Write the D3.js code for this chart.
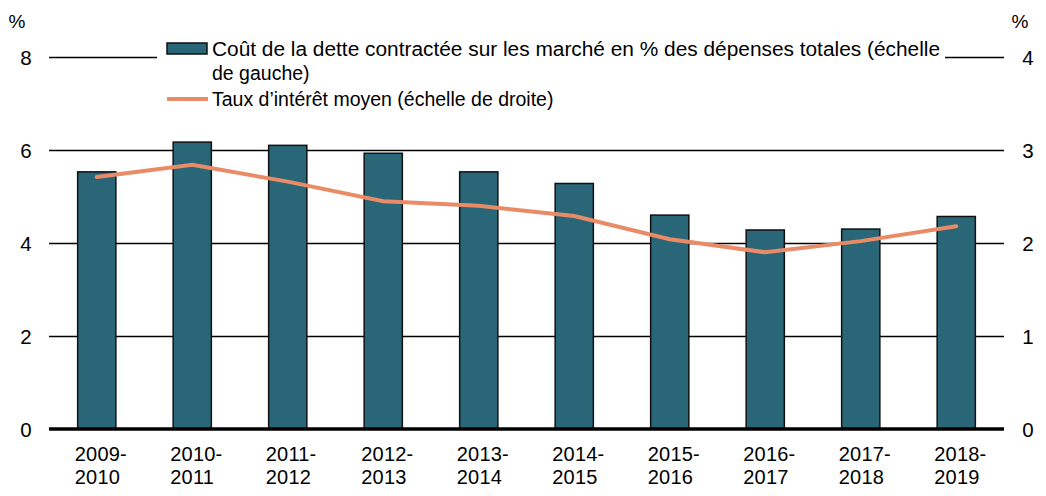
<!DOCTYPE html>
<html>
<head>
<meta charset="utf-8">
<script src="https://cdn.jsdelivr.net/npm/d3@7"></script>
<style>
  body { margin: 0; background: #fff; }
  text { font-family: "Liberation Sans", Arial, sans-serif; fill: #000; }
</style>
</head>
<body>
<script>
// values
const years = ["2009-2010", "2010-2011", "2011-2012", "2012-2013", "2013-2014",
               "2014-2015", "2015-2016", "2016-2017", "2017-2018", "2018-2019"];
const debtCost = [5.53, 6.17, 6.10, 5.93, 5.53, 5.28, 4.60, 4.28, 4.30, 4.57];
const avgRate = [2.71, 2.84, 2.66, 2.45, 2.40, 2.29, 2.04, 1.90, 2.02, 2.18];
const leftTicks = [0, 2, 4, 6, 8];
const rightTicks = [0, 1, 2, 3, 4];
const legendBar = ["Coût de la dette contractée sur les marché en % des dépenses totales (échelle", "de gauche)"];
const legendLine = "Taux d’intérêt moyen (échelle de droite)";

const W = 1046, H = 496;
const margin = {left: 49, right: 42, top: 57, bottom: 67};

const svg = d3.select("body").append("svg")
    .attr("width", W).attr("height", H);

const x = d3.scaleBand().domain(years)
    .range([margin.left, W - margin.right]).paddingInner(0.6).paddingOuter(0.3);
const yL = d3.scaleLinear().domain([0, 8]).range([H - margin.bottom, margin.top]);
const yR = d3.scaleLinear().domain([0, 4]).range([H - margin.bottom, margin.top]);

// gridlines
svg.append("g").selectAll("line")
    .data(leftTicks.filter(d => d > 0))
    .enter().append("line")
    .attr("x1", margin.left).attr("x2", W - margin.right)
    .attr("y1", d => yL(d) + 0.5).attr("y2", d => yL(d) + 0.5)
    .style("stroke", "#000").style("stroke-width", 1.3);

// left axis labels
svg.append("g").selectAll("text")
    .data(leftTicks)
    .enter().append("text")
    .attr("x", 26).attr("y", d => yL(d) + 7.5)
    .attr("text-anchor", "middle")
    .style("font-size", "20.5px")
    .text(d => d);

// right axis labels
svg.append("g").selectAll("text")
    .data(rightTicks)
    .enter().append("text")
    .attr("x", 1028).attr("y", d => yR(d) + 7.5)
    .attr("text-anchor", "middle")
    .style("font-size", "20.5px")
    .text(d => d);

svg.append("text").attr("x", 17).attr("y", 28).attr("text-anchor", "middle")
    .style("font-size", "19px").text("%");
svg.append("text").attr("x", 1020).attr("y", 28).attr("text-anchor", "middle")
    .style("font-size", "19px").text("%");

// bars
svg.append("g").selectAll("rect")
    .data(debtCost)
    .enter().append("rect")
    .attr("x", (d, i) => x(years[i]))
    .attr("width", x.bandwidth())
    .attr("y", d => yL(d))
    .attr("height", d => yL(0) - yL(d))
    .style("fill", "#286678")
    .style("stroke", "#111")
    .style("stroke-width", 1.5);

// zero line
svg.append("line")
    .attr("x1", margin.left).attr("x2", W - margin.right)
    .attr("y1", yL(0)).attr("y2", yL(0))
    .style("stroke", "#000").style("stroke-width", 3.5);

// rate line
const line = d3.line()
    .x((d, i) => x(years[i]) + x.bandwidth() / 2)
    .y(d => yR(d));
svg.append("path")
    .datum(avgRate)
    .attr("d", line)
    .style("fill", "none")
    .style("stroke", "#E98B66")
    .style("stroke-width", 4)
    .style("stroke-linecap", "round");

// x labels, both lines start at the same left edge
const xl = svg.append("g").selectAll("text")
    .data(years)
    .enter().append("text")
    .style("font-size", "20px")
    .style("letter-spacing", "0.2px");
xl.append("tspan").attr("x", d => x(d) + x.bandwidth() / 2 - 22).attr("y", 461)
    .text(d => d.split("-")[0] + "-");
xl.append("tspan").attr("x", d => x(d) + x.bandwidth() / 2 - 22).attr("y", 484)
    .text(d => d.split("-")[1]);

// legend
const lg = svg.append("g");
lg.append("rect").attr("x", 157).attr("y", 34).attr("width", 788).attr("height", 76)
    .style("fill", "#fff");
lg.append("rect").attr("x", 167).attr("y", 43).attr("width", 40).attr("height", 11)
    .style("fill", "#286678").style("stroke", "#111").style("stroke-width", 1.5);
lg.append("text").attr("x", 212).attr("y", 56)
    .style("font-size", "19.5px")
    .attr("textLength", 728).attr("lengthAdjust", "spacingAndGlyphs")
    .text(legendBar[0]);
lg.append("text").attr("x", 212).attr("y", 80)
    .style("font-size", "19.5px")
    .text(legendBar[1]);
lg.append("line").attr("x1", 167).attr("x2", 208).attr("y1", 99).attr("y2", 99)
    .style("stroke", "#E98B66").style("stroke-width", 4);
lg.append("text").attr("x", 212).attr("y", 106)
    .style("font-size", "19.5px")
    .text(legendLine);
</script>
</body>
</html>
